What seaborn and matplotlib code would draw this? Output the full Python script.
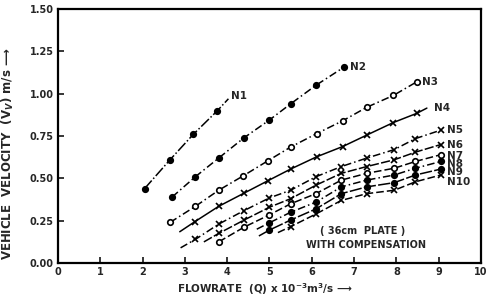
import matplotlib
matplotlib.use("Agg")
import matplotlib.pyplot as plt
import seaborn as sns

# flowrate Q (x 10^-3 m^3/s) and vehicle velocity Vv (m/s)
q_n1 = [2.05, 2.65, 3.2, 3.77, 4.03]
v_n1 = [0.44, 0.61, 0.76, 0.90, 0.97]
q_n2 = [2.7, 3.25, 3.8, 4.4, 5.0, 5.5, 6.1, 6.75]
v_n2 = [0.39, 0.51, 0.62, 0.74, 0.845, 0.94, 1.05, 1.155]
q_n3 = [2.65, 3.25, 3.8, 4.38, 4.97, 5.5, 6.12, 6.73, 7.3, 7.93, 8.48]
v_n3 = [0.24, 0.335, 0.43, 0.515, 0.605, 0.685, 0.765, 0.84, 0.92, 0.99, 1.07]
q_n4 = [2.88, 3.24, 3.8, 4.4, 4.97, 5.5, 6.12, 6.73, 7.31, 7.93, 8.48, 8.72]
v_n4 = [0.185, 0.245, 0.335, 0.413, 0.487, 0.555, 0.628, 0.688, 0.757, 0.83, 0.884, 0.915]
q_n5 = [2.9, 3.25, 3.8, 4.4, 5.0, 5.5, 6.1, 6.7, 7.3, 7.95, 8.45, 9.05]
v_n5 = [0.09, 0.14, 0.23, 0.31, 0.385, 0.43, 0.51, 0.57, 0.62, 0.67, 0.735, 0.785]
q_n6 = [3.45, 3.8, 4.4, 5.0, 5.5, 6.1, 6.7, 7.3, 7.95, 8.45, 9.05]
v_n6 = [0.125, 0.175, 0.254, 0.33, 0.38, 0.46, 0.53, 0.57, 0.61, 0.655, 0.70]
q_n7 = [3.8, 4.4, 5.0, 5.5, 6.1, 6.7, 7.3, 7.95, 8.45, 9.05]
v_n7 = [0.125, 0.212, 0.285, 0.35, 0.41, 0.49, 0.53, 0.56, 0.60, 0.64]
q_n8 = [4.7, 5.0, 5.5, 6.1, 6.7, 7.3, 7.95, 8.45, 9.05]
v_n8 = [0.20, 0.238, 0.30, 0.36, 0.45, 0.49, 0.52, 0.56, 0.60]
q_n9 = [4.75, 5.0, 5.5, 6.1, 6.7, 7.3, 7.95, 8.45, 9.05]
v_n9 = [0.16, 0.195, 0.254, 0.32, 0.41, 0.45, 0.475, 0.52, 0.555]
q_n10 = [5.2, 5.5, 6.1, 6.7, 7.3, 7.95, 8.45, 9.05]
v_n10 = [0.18, 0.215, 0.29, 0.37, 0.41, 0.43, 0.48, 0.52]

names = ["N1", "N2", "N3", "N4", "N5", "N6", "N7", "N8", "N9", "N10"]
x_ticks = list(range(0, 11))
y_ticks = [0.0, 0.25, 0.5, 0.75, 1.0, 1.25, 1.5]
y_tick_labels = ["0.00", "0.25", "0.50", "0.75", "1.00", "1.25", "1.50"]

series = {
    "N1": (q_n1, v_n1), "N2": (q_n2, v_n2), "N3": (q_n3, v_n3),
    "N4": (q_n4, v_n4), "N5": (q_n5, v_n5), "N6": (q_n6, v_n6),
    "N7": (q_n7, v_n7), "N8": (q_n8, v_n8), "N9": (q_n9, v_n9),
    "N10": (q_n10, v_n10),
}

# marker, open?, linestyle, which points carry a marker
styles = {
    "N1": ("o", False, (0, (7, 1.5, 1, 1.5)), [0, 1, 2, 3]),
    "N2": ("o", False, (0, (5, 2, 1, 2)), None),
    "N3": ("o", True, (0, (5, 2, 1, 2)), None),
    "N4": ("x", False, "-", list(range(1, 11))),
    "N5": ("x", False, (0, (5, 2, 1, 2)), list(range(1, 12))),
    "N6": ("x", False, (0, (6, 1.5)), list(range(1, 11))),
    "N7": ("o", True, (0, (5, 2)), None),
    "N8": ("o", False, (0, (5, 2, 1, 2)), list(range(1, 9))),
    "N9": ("o", False, (0, (8, 1.5)), list(range(1, 9))),
    "N10": ("x", False, (0, (5, 2)), list(range(1, 8))),
}

# label anchor (left edge of the text) next to each curve end
label_pos = {
    "N1": (4.1, 0.985), "N2": (6.9, 1.16), "N3": (8.6, 1.07), "N4": (8.9, 0.915),
    "N5": (9.2, 0.785), "N6": (9.2, 0.70), "N7": (9.2, 0.635), "N8": (9.2, 0.585),
    "N9": (9.2, 0.535), "N10": (9.2, 0.48),
}

sns.set_style("white")
plt.rcParams["font.family"] = ["DejaVu Sans"]
plt.rcParams["font.weight"] = "bold"

fig = plt.figure(figsize=(4.99, 3.01), dpi=100)
ax = fig.add_axes([0.116, 0.126, 0.848, 0.844])

for n in names:
    q, v = series[n]
    mk, hollow, ls, every = styles[n]
    kw = dict(color="black", linewidth=1.1, linestyle=ls, marker=mk,
              markersize=4 if mk == "o" else 4.5, markeredgewidth=1.2,
              markerfacecolor="white" if hollow else "black",
              markeredgecolor="black")
    if every is not None:
        kw["markevery"] = every
    sns.lineplot(x=q, y=v, ax=ax, sort=False, estimator=None, **kw)
    tx, ty = label_pos[n]
    ax.text(tx, ty, n, fontsize=7.5, fontweight="bold", va="center", ha="left")

ax.text(7.2, 0.19, "( 36cm  PLATE )", fontsize=7, fontweight="bold", ha="center", va="center")
ax.text(7.28, 0.106, "WITH COMPENSATION", fontsize=7, fontweight="bold", ha="center", va="center")

ax.set_xlim(0, 10)
ax.set_ylim(0, 1.5)
ax.set_xticks(x_ticks)
ax.set_xticklabels([str(t) for t in x_ticks])
ax.set_yticks(y_ticks)
ax.set_yticklabels(y_tick_labels)
ax.tick_params(direction="in", length=4, width=1.3, labelsize=7, pad=3,
               bottom=True, left=True)
for lab in ax.get_xticklabels() + ax.get_yticklabels():
    lab.set_fontweight("bold")
for sp in ax.spines.values():
    sp.set_visible(True)
    sp.set_color("black")
    sp.set_linewidth(1.6)

ax.set_xlabel("FLOWRATE  (Q) x 10$^{-3}$m$^{3}$/s ⟶", fontsize=7.5, fontweight="bold")
ax.xaxis.set_label_coords(0.49, -0.072)
ax.set_ylabel("VEHICLE  VELOCITY  (V$_{V}$) m/s ⟶", fontsize=8.5, fontweight="bold")
ax.yaxis.set_label_coords(-0.1, 0.43)

fig.savefig("out.png", dpi=100)
